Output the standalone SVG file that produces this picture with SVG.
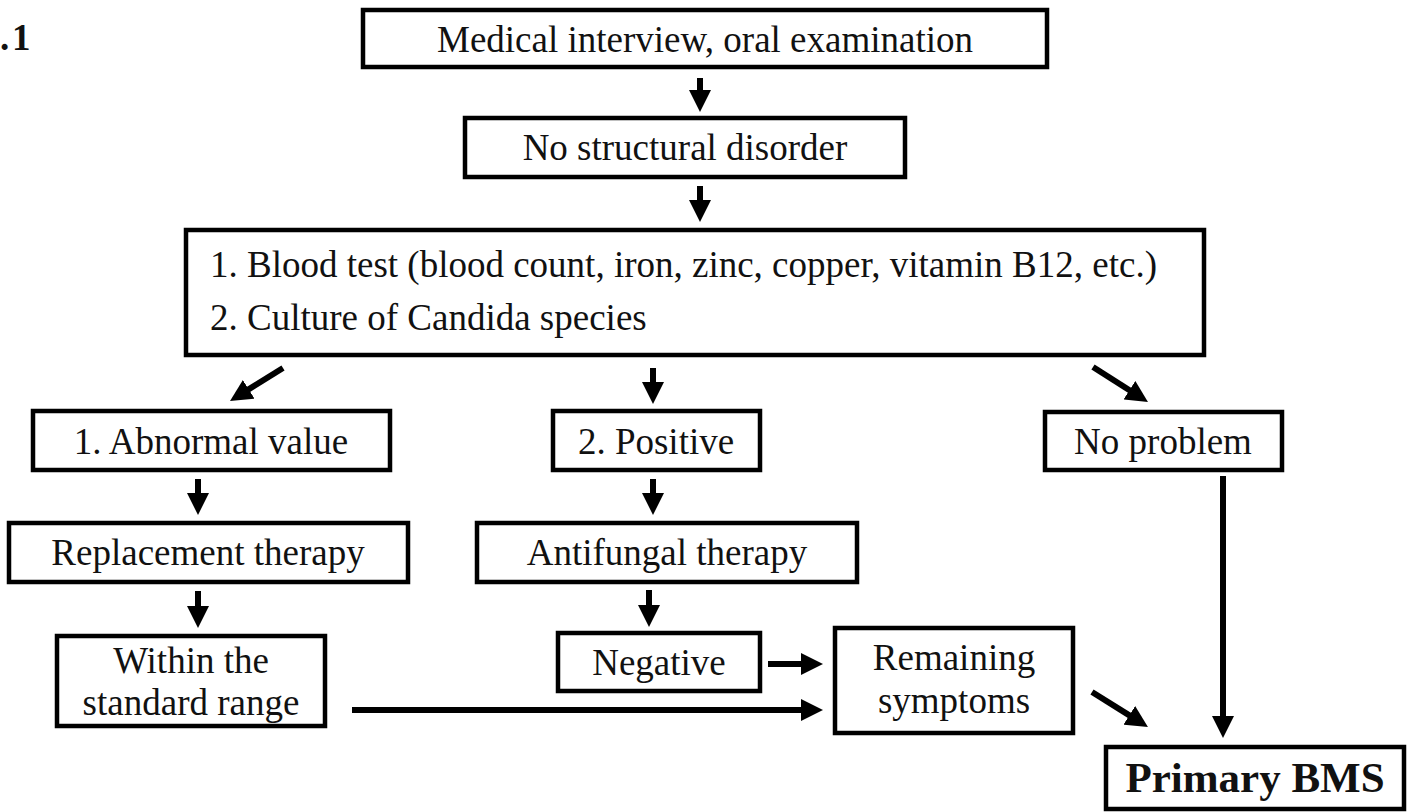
<svg xmlns="http://www.w3.org/2000/svg" width="1413" height="812" viewBox="0 0 1413 812">
  <defs>
    <style>
      .box { fill: #ffffff; stroke: #000000; stroke-width: 4.5; }
      .t { font-family: "Liberation Serif", "Times New Roman", serif; font-size: 37px; fill: #111111; text-anchor: middle; }
      .tl { font-family: "Liberation Serif", "Times New Roman", serif; font-size: 37px; fill: #111111; text-anchor: start; }
      .tb { font-family: "Liberation Serif", "Times New Roman", serif; font-size: 43px; font-weight: bold; fill: #111111; text-anchor: middle; }
      .fig { font-family: "Liberation Serif", "Times New Roman", serif; font-size: 37px; font-weight: bold; fill: #111111; }
      .arr { stroke: #000000; stroke-width: 6; fill: none; marker-end: url(#ah); }
    </style>
    <marker id="ah" markerUnits="userSpaceOnUse" markerWidth="22" markerHeight="22" refX="2" refY="11" orient="auto">
      <path d="M0,0 L22,11 L0,22 z" fill="#000000"/>
    </marker>
  </defs>
  <rect width="1413" height="812" fill="#ffffff"/>

  <text class="fig" x="0 6 12" y="50">. 1</text>

  <g id="connectors">
    <line class="arr" x1="700" y1="78" x2="700" y2="92"/>
    <line class="arr" x1="700" y1="186" x2="700" y2="202"/>
    <line class="arr" x1="653" y1="368" x2="653" y2="384"/>
    <line class="arr" x1="283" y1="368" x2="247" y2="390.4"/>
    <line class="arr" x1="1093" y1="367" x2="1131.1" y2="391.3"/>
    <line class="arr" x1="198" y1="479" x2="198" y2="495"/>
    <line class="arr" x1="653" y1="479" x2="653" y2="495"/>
    <line class="arr" x1="198" y1="591" x2="198" y2="608"/>
    <line class="arr" x1="649" y1="590" x2="649" y2="607"/>
    <line class="arr" x1="1223" y1="476" x2="1223" y2="718"/>
    <line class="arr" x1="768" y1="664" x2="803" y2="664"/>
    <line class="arr" x1="352" y1="710" x2="803" y2="710"/>
    <line class="arr" x1="1092" y1="692" x2="1131" y2="716.4"/>
  </g>

  <g id="n-interview">
    <rect class="box" x="363" y="10" width="684" height="57"/>
    <text class="t" x="705" y="52">Medical interview, oral examination</text>
  </g>
  <g id="n-nostructural">
    <rect class="box" x="465" y="118" width="440" height="59"/>
    <text class="t" x="685" y="160">No structural disorder</text>
  </g>
  <g id="n-tests">
    <rect class="box" x="186" y="230" width="1018" height="125"/>
    <text class="tl" x="210" y="277">1. Blood test (blood count, iron, zinc, copper, vitamin B12, etc.)</text>
    <text class="tl" x="210" y="330">2. Culture of Candida species</text>
  </g>
  <g id="n-abnormal">
    <rect class="box" x="33" y="411" width="357" height="59"/>
    <text class="t" x="211" y="454">1. Abnormal value</text>
  </g>
  <g id="n-positive">
    <rect class="box" x="553" y="411" width="207" height="59"/>
    <text class="t" x="656" y="454">2. Positive</text>
  </g>
  <g id="n-noproblem">
    <rect class="box" x="1045" y="412" width="237" height="58"/>
    <text class="t" x="1163" y="454">No problem</text>
  </g>
  <g id="n-replacement">
    <rect class="box" x="9" y="523" width="399" height="59"/>
    <text class="t" x="208" y="565">Replacement therapy</text>
  </g>
  <g id="n-antifungal">
    <rect class="box" x="477" y="523" width="380" height="59"/>
    <text class="t" x="667" y="565">Antifungal therapy</text>
  </g>
  <g id="n-within">
    <rect class="box" x="57" y="636" width="268" height="90"/>
    <text class="t" x="191" y="673">Within the</text>
    <text class="t" x="191" y="715">standard range</text>
  </g>
  <g id="n-negative">
    <rect class="box" x="558" y="633" width="202" height="58"/>
    <text class="t" x="659" y="675">Negative</text>
  </g>
  <g id="n-remaining">
    <rect class="box" x="835" y="628" width="238" height="105"/>
    <text class="t" x="954" y="670">Remaining</text>
    <text class="t" x="954" y="713">symptoms</text>
  </g>
  <g id="n-primary">
    <rect class="box" x="1106" y="747" width="298" height="62"/>
    <text class="tb" x="1255" y="792">Primary BMS</text>
  </g>
</svg>
